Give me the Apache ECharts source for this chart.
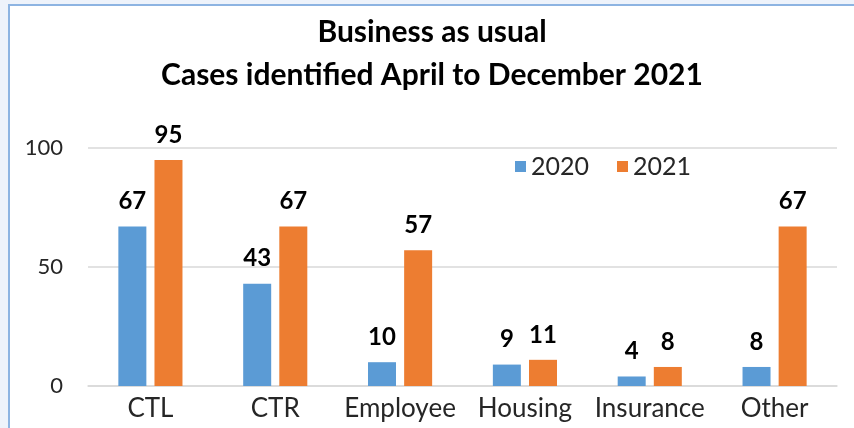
<!DOCTYPE html>
<html>
<head>
<meta charset="utf-8">
<script src="https://cdn.jsdelivr.net/npm/echarts@6/dist/echarts.min.js"></script>
<style>
  html, body { margin: 0; padding: 0; background: #eef3fb; }
  #frame { position: absolute; left: 8px; top: 4px; width: 846px; height: 424px;
           background: #fff; border-left: 2px solid #8db4e2; border-top: 2px solid #8db4e2; box-sizing: border-box; }
  #chart { width: 100%; height: 100%; }
</style>
</head>
<body>
<div id="frame"><div id="chart"></div></div>
<script>
var categories = ['CTL', 'CTR', 'Employee', 'Housing', 'Insurance', 'Other'];
var values2020 = [67, 43, 10, 9, 4, 8];
var values2021 = [95, 67, 57, 11, 8, 67];
var yTicks = [0, 50, 100];

var chart = echarts.init(document.getElementById('chart'));
var labelStyle = {
  show: true, position: 'top', distance: 13,
  fontFamily: 'Lato', fontWeight: 'bold', fontSize: 24, color: '#000'
};
chart.setOption({
  textStyle: { fontFamily: 'Lato' },
  title: {
    text: 'Business as usual\nCases identified April to December 2021',
    left: 'center', top: 0,
    textStyle: { fontFamily: 'Lato', fontWeight: 'bold', fontSize: 30, lineHeight: 43, color: '#000' }
  },
  legend: {
    data: ['2020', '2021'],
    left: 500, top: 143,
    icon: 'rect', itemWidth: 11, itemHeight: 11, itemGap: 28,
    textStyle: { fontFamily: 'Lato', fontSize: 25, color: '#262626' }
  },
  grid: { left: 78, right: 17, top: 142, bottom: 42 },
  xAxis: {
    type: 'category', data: categories,
    axisTick: { show: false },
    axisLine: { lineStyle: { color: '#d9d9d9', width: 1.5 } },
    axisLabel: { interval: 0, hideOverlap: false, fontFamily: 'Lato', fontSize: 26, color: '#262626', margin: 10 }
  },
  yAxis: {
    type: 'value', min: yTicks[0], max: yTicks[yTicks.length - 1], interval: 50,
    axisLine: { show: false }, axisTick: { show: false },
    splitLine: { lineStyle: { color: '#d9d9d9', width: 1.5 } },
    axisLabel: { fontFamily: 'Lato', fontSize: 22, color: '#262626', margin: 25 }
  },
  series: [
    { name: '2020', type: 'bar', data: values2020, barWidth: 28, barGap: '29%',
      itemStyle: { color: '#5b9bd5' }, label: labelStyle },
    { name: '2021', type: 'bar', data: values2021, barWidth: 28,
      itemStyle: { color: '#ed7d31' }, label: labelStyle }
  ]
});
</script>
</body>
</html>
